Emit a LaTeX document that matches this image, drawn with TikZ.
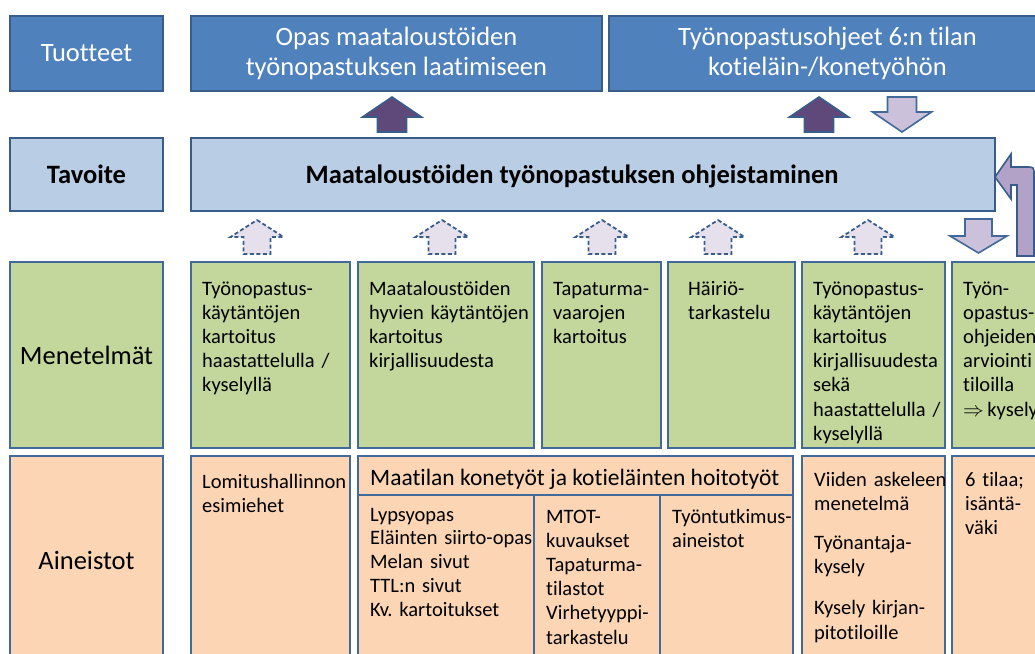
\documentclass[tikz,border=0pt]{standalone}
\usepackage{fontspec}
\setmainfont{Carlito}[Ligatures={NoCommon}]
\usetikzlibrary{calc}
\definecolor{prodfill}{HTML}{4F81BD}
\definecolor{prodline}{HTML}{385D8A}
\definecolor{goalfill}{HTML}{B9CDE5}
\definecolor{methfill}{HTML}{C3D69B}
\definecolor{matfill}{HTML}{FCD5B5}
\definecolor{boxline}{HTML}{41699A}
\definecolor{darkarr}{HTML}{5F497A}
\definecolor{lightarr}{HTML}{CCC1DA}
\definecolor{bentarr}{HTML}{B3A2C7}
\definecolor{dasharr}{HTML}{E6E0EC}
\newcommand{\labfont}{\fontsize{26.5}{30}\selectfont}
\newcommand{\cellfont}{\fontsize{20.5}{24.2}\selectfont}
\newcommand{\goalfont}{\bfseries\fontsize{26.5}{30}\selectfont}
\frenchspacing
\begin{document}
\begin{tikzpicture}[x=1pt,y=-1pt,
  cell/.style={draw=boxline, line width=2, anchor=north west, inner sep=0, outer sep=0},
  sized/.style 2 args={minimum width=#1, minimum height=#2},
  prod/.style={cell, fill=prodfill, draw=prodline, text=white, font=\labfont, align=center},
  goal/.style={cell, fill=goalfill, draw=prodline, font=\goalfont},
  meth/.style={cell, fill=methfill},
  mat/.style={cell, fill=matfill},
  celltext/.style={anchor=base west, inner sep=0, text width=#1, align=left, font=\cellfont},
  pics/blockup/.style n args={4}{code={
    \path[pic actions] (0,0) -- (#1,#3) -- (#2,#3) -- (#2,#4) -- (-#2,#4)
      -- (-#2,#3) -- (-#1,#3) -- cycle;}},
  darkup/.style={fill=darkarr, draw=prodline, line width=1.6},
  lightdown/.style={fill=lightarr, draw=boxline, line width=1.6},
  dashup/.style={fill=dasharr, draw=prodline, line width=1.8, dash pattern=on 4pt off 2.5pt},
]
\useasboundingbox (0,0) rectangle (1035,653);
\clip (0,0) rectangle (1035,653);

% --- products row ---
\node[prod, sized={153}{75}] (prodlab) at (10,16) {Tuotteet};
\node[prod, sized={411}{75}] (guide) at (191,16) {Opas maataloustöiden\\työnopastuksen laatimiseen};
\node[prod, sized={437}{75}] (instr) at (609,16) {Työnopastusohjeet 6:n tilan\\kotieläin-/konetyöhön};

% --- goal row ---
\node[goal, sized={153}{73}] (goallab) at (10,138) {Tavoite};
\node[goal, sized={804}{73}] (goal) at (191,138) {};
\node[anchor=center, inner sep=0, font=\goalfont] (goaltext) at (572,176) {Maataloustöiden työnopastuksen ohjeistaminen};

% --- methods row ---
\node[meth, sized={153}{186}, font=\labfont] (methlab) at (10,262) {Menetelmät};
\node[meth, sized={159}{186}] (m1) at (191,262) {};
\node[meth, sized={176}{186}] (m2) at (358,262) {};
\node[meth, sized={119}{186}] (m3) at (542,262) {};
\node[meth, sized={127}{186}] (m4) at (668,262) {};
\node[meth, sized={143}{186}] (m5) at (802,262) {};
\node[meth, sized={120}{186}] (m6) at (952,262) {};

\node[celltext=150] (m1t) at (202,295) {Työnopastus-\\käytäntöjen\\kartoitus\\haastattelulla /\\kyselyllä};
\node[celltext=170] (m2t) at (369,295) {Maataloustöiden\\hyvien käytäntöjen\\kartoitus\\kirjallisuudesta};
\node[celltext=110] (m3t) at (553,295) {Tapaturma-\\vaarojen\\kartoitus};
\node[celltext=110] (m4t) at (688,295) {Häiriö-\\tarkastelu};
\node[celltext=140] (m5t) at (813,295) {Työnopastus-\\käytäntöjen\\kartoitus\\kirjallisuudesta\\sekä\\haastattelulla /\\kyselyllä};
\node[celltext=110] (m6t) at (963,295) {Työn-\\opastus-\\ohjeiden\\arviointi\\tiloilla\\$\Rightarrow$\,kysely};

% --- materials row ---
\node[mat, sized={153}{208}, font=\labfont] (matlab) at (10,456) {Aineistot};
\node[mat, sized={159}{208}] (a1) at (191,456) {};
\node[mat, sized={435}{39}] (farm) at (358,456) {};
\node[mat, sized={176}{169}] (a2) at (358,495) {};
\node[mat, sized={126}{169}] (a3) at (534,495) {};
\node[mat, sized={133}{169}] (a4) at (660,495) {};
\node[mat, sized={143}{208}] (a5) at (802,456) {};
\node[mat, sized={120}{208}] (a6) at (952,456) {};

\node[anchor=base west, inner sep=0, font=\fontsize{23.5}{27}\selectfont] (farmt) at (370,485) {Maatilan konetyöt ja kotieläinten hoitotyöt};
\node[celltext=150] (a1t) at (202,488) {Lomitushallinnon\\esimiehet};
\node[celltext=170, font=\fontsize{20.5}{23.8}\selectfont] (a2t) at (370,521) {Lypsyopas\\Eläinten siirto-opas\\Melan sivut\\TTL:n sivut\\Kv. kartoitukset};
\node[celltext=120] (a3t) at (546,523) {MTOT-\\kuvaukset\\Tapaturma-\\tilastot\\Virhetyyppi-\\tarkastelu};
\node[celltext=125] (a4t) at (672,523) {Työntutkimus-\\aineistot};
\node[celltext=140] (a5t) at (814,486) {Viiden askeleen\\menetelmä\\[15pt]Työnantaja-\\kysely\\[17pt]Kysely kirjan-\\pitotiloille};
\node[celltext=110] (a6t) at (965,486) {6 tilaa;\\isäntä-\\väki};

% --- block arrows between the rows ---
\pic[darkup] at (392,97) {blockup={29.5}{14.5}{20}{35}};
\pic[darkup] at (819,97) {blockup={29.5}{14.5}{20}{35}};
\pic[lightdown, yscale=-1] at (902,132) {blockup={29.5}{14.5}{20}{35}};
\pic[lightdown, yscale=-1] at (978.5,253) {blockup={28.5}{13.5}{17}{34}};
\foreach \cx in {257,442,602,718,868}
  \pic[dashup] at (\cx,220) {blockup={26.5}{13.5}{17}{34}};

% bent feedback arrow into the goal box
\draw[fill=bentarr, draw=prodline, line width=1.6]
  (goal.east |- 0,177) -- (1011,154) -- (1011,167) -- (1026,167)
  .. controls (1034,167) .. (1034,175) -- (1034,256) -- (1017,256)
  -- (1017,185) -- (1011,185) -- (1011,199) -- cycle;
\end{tikzpicture}
\end{document}
